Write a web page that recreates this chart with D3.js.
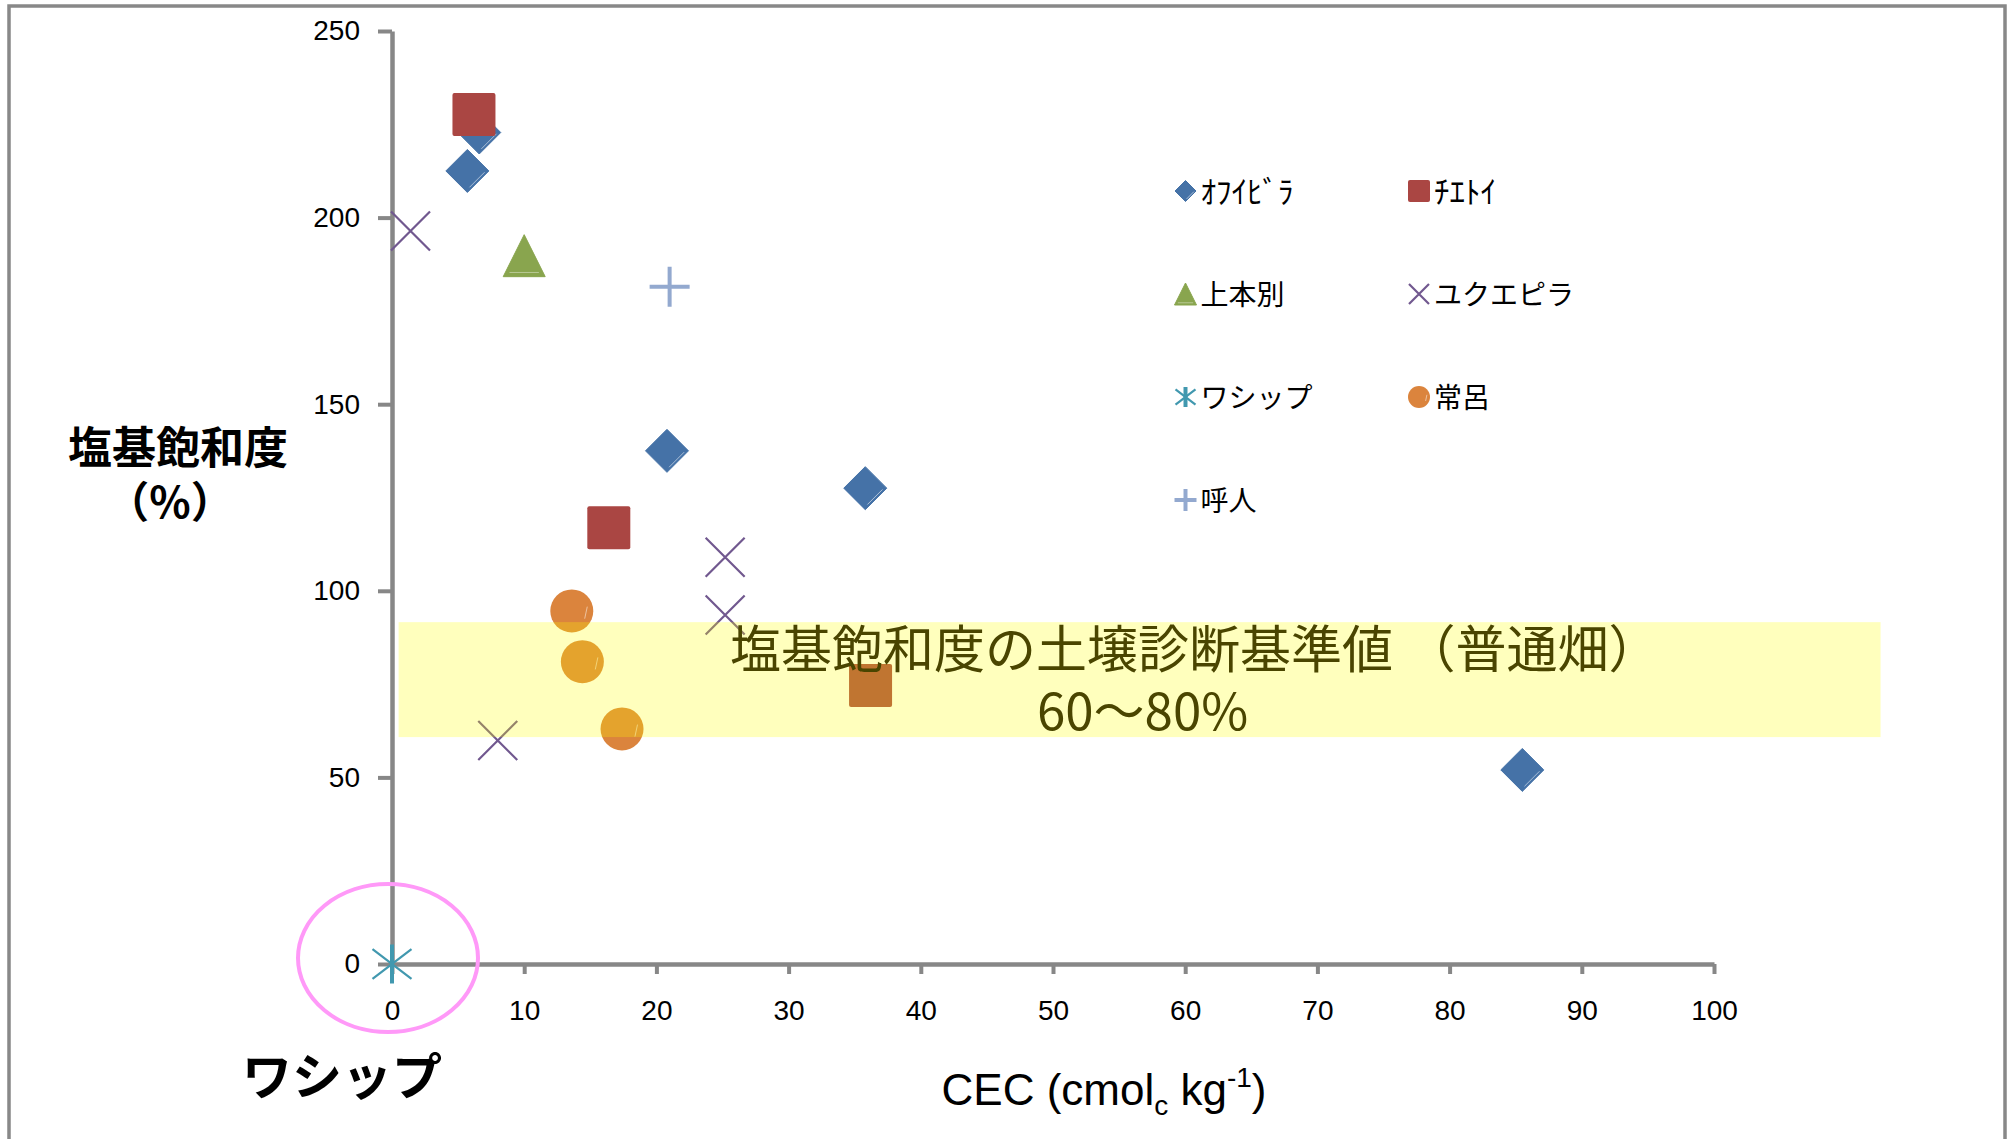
<!DOCTYPE html>
<html>
<head>
<meta charset="utf-8">
<script src="https://cdn.jsdelivr.net/npm/d3@7"></script>
<style>
  html, body { margin: 0; padding: 0; background: #fff; }
  svg { display: block; }
</style>
</head>
<body>
<script>
// ---------------- data ----------------
const seriesNames = ["ｵﾌｲﾋﾞﾗ", "ﾁｴﾄｲ", "上本別", "ユクエピラ", "ワシップ", "常呂", "呼人"];
const seriesColors = ["#4572A7", "#AA4643", "#89A54E", "#71588F", "#4198AF", "#DB843D", "#93A9CF"];
const seriesShapes = ["diamond", "square", "triangle", "cross", "star", "circle", "plus"];

// CEC (cmolc/kg) and base saturation (%)
const ofuibiraCEC = [5.7, 6.6, 20.8, 35.8, 85.5];
const ofuibiraBS  = [212.5, 222.8, 137.5, 127.5, 52.0];
const chietoiCEC  = [6.2, 16.4, 36.2];
const chietoiBS   = [227.6, 116.9, 74.6];
const kamihonbetsuCEC = [10.0];
const kamihonbetsuBS  = [189.8];
const yukuepiraCEC = [1.4, 25.2, 25.2, 8.0];
const yukuepiraBS  = [196.4, 109.0, 93.5, 59.9];
const washippuCEC = [0];
const washippuBS  = [0];
const tokoroCEC = [13.6, 14.4, 17.4];
const tokoroBS  = [94.6, 81.0, 63.0];
const yobitoCEC = [21.0];
const yobitoBS  = [181.5];

const seriesCEC = [ofuibiraCEC, chietoiCEC, kamihonbetsuCEC, yukuepiraCEC, washippuCEC, tokoroCEC, yobitoCEC];
const seriesBS  = [ofuibiraBS, chietoiBS, kamihonbetsuBS, yukuepiraBS, washippuBS, tokoroBS, yobitoBS];

const xTicks = [0, 10, 20, 30, 40, 50, 60, 70, 80, 90, 100];
const yTicks = [0, 50, 100, 150, 200, 250];

// soil diagnosis reference band (annotation box, in data units)
const bandCEC = [0.5, 112.6];
const bandBS  = [60.8, 91.6];
const bandLine1 = "塩基飽和度の土壌診断基準値 （普通畑）";
const bandLine2 = "60～80%";

const yTitle1 = "塩基飽和度";
const yTitle2 = "（%）";
const circledLabel = "ワシップ";

// ---------------- drawing ----------------
const W = 2011, H = 1139;
const svg = d3.select("body").append("svg").attr("width", W).attr("height", H);

// outer chart border
svg.append("rect").attr("x", 9).attr("y", 6).attr("width", 1996).attr("height", 1160)
  .attr("fill", "none").attr("stroke", "#888").attr("stroke-width", 3.5);

const x = d3.scaleLinear().domain([0, 100]).range([392, 1714]);
const y = d3.scaleLinear().domain([0, 250]).range([964, 31]);

const axisColor = "#878787";
const tickFont = "'Liberation Sans', Arial, sans-serif";

// y axis
const gy = svg.append("g").attr("transform", `translate(${x(0)},0)`)
  .call(d3.axisLeft(y).tickValues(yTicks).tickSize(14).tickSizeOuter(0).tickPadding(18).tickFormat(d3.format("d")));
// x axis
const gx = svg.append("g").attr("transform", `translate(0,${y(0)})`)
  .call(d3.axisBottom(x).tickValues(xTicks).tickSize(10).tickSizeOuter(0).tickPadding(26).tickFormat(d3.format("d")));

[gx, gy].forEach(g => {
  g.select(".domain").attr("stroke", axisColor).attr("stroke-width", 4.5);
  g.selectAll(".tick line").attr("stroke", axisColor).attr("stroke-width", 4);
  g.selectAll(".tick text").attr("fill", "#000").style("font-family", tickFont).style("font-size", "28px");
});

// marker drawing
function drawMarker(g, shape, color, s) {
  if (shape === "diamond") {
    g.append("path").attr("d", `M0,${-s/2}L${s/2},0L0,${s/2}L${-s/2},0Z`).attr("fill", color)
      .attr("stroke", color).attr("stroke-width", 1).attr("stroke-linejoin", "round");
    g.append("path").attr("d", `M${s*0.05},${s*0.38}L${s*0.40},${s*0.03}`)
      .attr("stroke", "#fff").attr("stroke-opacity", 0.55).attr("stroke-width", 1);
  } else if (shape === "square") {
    g.append("rect").attr("x", -s/2).attr("y", -s/2).attr("width", s).attr("height", s)
      .attr("rx", 2).attr("fill", color);
  } else if (shape === "triangle") {
    g.append("path").attr("d", `M0,${-s/2}L${s/2},${s/2}L${-s/2},${s/2}Z`).attr("fill", color)
      .attr("stroke", color).attr("stroke-width", 1).attr("stroke-linejoin", "round");
    g.append("path").attr("d", `M${-s*0.35},${s*0.40}L${s*0.35},${s*0.40}`)
      .attr("stroke", "#fff").attr("stroke-opacity", 0.4).attr("stroke-width", 1);
  } else if (shape === "cross") {
    g.append("path").attr("d", `M${-s/2},${-s/2}L${s/2},${s/2}M${-s/2},${s/2}L${s/2},${-s/2}`)
      .attr("stroke", color).attr("stroke-width", 2.2).attr("fill", "none");
  } else if (shape === "star") {
    g.append("path").attr("d", `M${-s/2},${-s*0.38}L${s/2},${s*0.38}M${-s/2},${s*0.38}L${s/2},${-s*0.38}`)
      .attr("stroke", color).attr("stroke-width", 2.2).attr("fill", "none");
    g.append("path").attr("d", `M0,${-s/2}L0,${s/2}`)
      .attr("stroke", color).attr("stroke-width", 4).attr("fill", "none");
  } else if (shape === "circle") {
    g.append("circle").attr("r", s/2).attr("fill", color);
    g.append("path").attr("d", `M${s*0.36},${-s*0.1}L${s*0.3},${s*0.18}`)
      .attr("stroke", "#fff").attr("stroke-opacity", 0.5).attr("stroke-width", 1);
  } else if (shape === "plus") {
    g.append("path").attr("d", `M${-s/2},0L${s/2},0M0,${-s/2}L0,${s/2}`)
      .attr("stroke", color).attr("stroke-width", 4).attr("fill", "none");
  }
}

const plotSizes = { diamond: 43, square: 43, triangle: 42, cross: 39, star: 39, circle: 43, plus: 40 };
const legendSizes = { diamond: 21, square: 22, triangle: 22, cross: 20, star: 20, circle: 22, plus: 22 };

const markersG = svg.append("g");
seriesNames.forEach((name, i) => {
  const pts = seriesCEC[i].map((c, j) => [c, seriesBS[i][j]]);
  markersG.selectAll(null).data(pts).enter().append("g")
    .attr("transform", d => `translate(${x(d[0])},${y(d[1])})`)
    .each(function () { drawMarker(d3.select(this), seriesShapes[i], seriesColors[i], plotSizes[seriesShapes[i]]); });
});

// translucent reference band (drawn over markers, like the original text box)
svg.append("rect")
  .attr("x", x(bandCEC[0])).attr("y", y(bandBS[1]))
  .attr("width", x(bandCEC[1]) - x(bandCEC[0])).attr("height", y(bandBS[0]) - y(bandBS[1]))
  .attr("fill", "#FFFF00").attr("fill-opacity", 0.26);

const cjk = "'Noto Sans CJK JP', 'Noto Sans', sans-serif";
svg.append("text").attr("x", 730).attr("y", 668).text(bandLine1)
  .style("font-family", cjk).style("font-size", "51px").attr("fill", "#4A4500");
svg.append("text").attr("x", 1037).attr("y", 730).text(bandLine2)
  .style("font-family", cjk).style("font-size", "51px").attr("fill", "#4A4500");

// legend
const legendG = svg.append("g");
const legendColX = [1185.5, 1419];
const legendRowY = [191, 294, 397, 500];
seriesNames.forEach((name, i) => {
  const cx = legendColX[i % 2], cy = legendRowY[Math.floor(i / 2)];
  const g = legendG.append("g").attr("transform", `translate(${cx},${cy})`);
  drawMarker(g, seriesShapes[i], seriesColors[i], legendSizes[seriesShapes[i]]);
  const halfWidth = /^[\uFF61-\uFF9F]+$/.test(name);
  legendG.append("text").attr("x", cx + 15).attr("y", cy + (halfWidth ? 11.5 : 10.5)).text(name)
    .style("font-family", cjk).style("font-size", halfWidth ? "31px" : "28px").attr("fill", "#000");
});

// axis titles
svg.append("text").attr("x", 178).attr("y", 464).attr("text-anchor", "middle").text(yTitle1)
  .style("font-family", cjk).style("font-size", "44px").style("font-weight", "bold");
svg.append("text").attr("x", 170).attr("y", 518).attr("text-anchor", "middle").text(yTitle2)
  .style("font-family", cjk).style("font-size", "43px").style("font-weight", "bold");

const xt = svg.append("text").attr("x", 1104).attr("y", 1105).attr("text-anchor", "middle")
  .style("font-family", tickFont).style("font-size", "44px").attr("fill", "#000");
xt.append("tspan").text("CEC (cmol");
xt.append("tspan").text("c").style("font-size", "28px").attr("dy", 10);
xt.append("tspan").text(" kg").attr("dy", -10);
xt.append("tspan").text("-1").style("font-size", "28px").attr("dy", -18);
xt.append("tspan").text(")").attr("dy", 18);

// highlighted origin point (ワシップ)
svg.append("ellipse").attr("cx", 388).attr("cy", 958).attr("rx", 90).attr("ry", 74)
  .attr("fill", "none").attr("stroke", "#FF99F8").attr("stroke-width", 4);
svg.append("text").attr("x", 342).attr("y", 1095).attr("text-anchor", "middle").text(circledLabel)
  .style("font-family", cjk).style("font-size", "50px").style("font-weight", "bold");
</script>
</body>
</html>
